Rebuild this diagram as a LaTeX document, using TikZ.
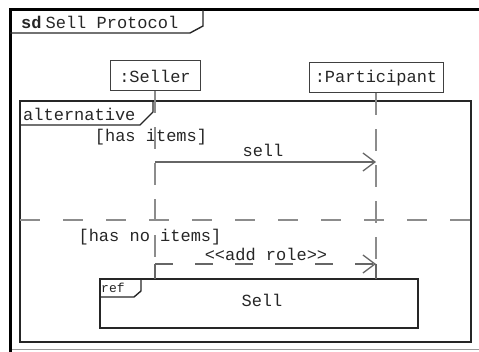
\documentclass[tikz,border=0pt]{standalone}
\usepackage{fontspec}
\setmainfont{Liberation Mono}
\usetikzlibrary{arrows.meta}
\begin{document}
\begin{tikzpicture}[x=1pt,y=-1pt,
  lbl/.style={font=\fontsize{17}{19}\selectfont, inner sep=0pt, text=black!85},
  smalllbl/.style={font=\fontsize{13}{15}\selectfont, inner sep=0pt, text=black!85},
  lifebox/.style={draw=black!75, line width=1pt, minimum height=30pt, inner sep=2pt,
    font=\fontsize{17}{19}\selectfont, text=black!85},
  lifeline/.style={draw=black!45, line width=1.3pt, dash pattern=on 22pt off 14pt},
  frameline/.style={draw=black!85, line width=2pt},
  tabline/.style={draw=black!85, line width=1.4pt},
  msg/.style={draw=black!60, line width=1.5pt, -{Straight Barb[length=12pt,width=18pt,line width=1.3pt]}},
  replymsg/.style={msg, dash pattern=on 18pt off 22pt},
  sep/.style={draw=black!45, line width=1.3pt, dash pattern=on 20pt off 23pt}]
\useasboundingbox (0,0) rectangle (479,352);

% diagram frame
\draw[line width=3pt] (10,352) -- (10,10) -- (479,10);
\draw[black!40, line width=1pt] (12,350) -- (479,350);
\draw[tabline] (10,33) -- (190,33) -- (203,26) -- (203,10);
\node[lbl, anchor=west] (title) at (21,22) {\textbf{sd}\kern4pt Sell Protocol};

% participants
\node[lifebox, minimum width=90pt] (seller) at (155,76) {:Seller};
\node[lifebox, minimum width=134pt] (part) at (376,78) {:Participant};

% combined fragment
\draw[frameline] (20,101) rectangle (471,342);
\draw[tabline] (20,125) -- (140,125) -- (153,112) -- (153,101);
\node[lbl, anchor=west] (alt) at (23,114) {alternative};
\draw[sep] (20,220) -- (471,220);
\node[lbl] (g1) at (151,137) {[has items]};
\node[lbl] (g2) at (150,237) {[has no items]};

% interaction use
\draw[frameline] (100,279) rectangle (418,328);
\draw[tabline] (100,297) -- (134,297) -- (141,291) -- (141,279);
\node[smalllbl, anchor=west] (ref) at (101,288) {ref};
\node[lbl] (refname) at (262,300) {Sell};

% message anchors on the lifelines
\coordinate (s1) at (155,162);
\coordinate (p1) at (376,162);
\coordinate (s2) at (155,264);
\coordinate (p2) at (376,264);
\coordinate (sref) at (155,279);
\coordinate (pref) at (376,279);

% lifelines
\draw[lifeline] (seller.south) -- (s2);
\draw[black!60, line width=1.3pt] (s2) -- (sref);
\draw[lifeline] (part.south) -- (p2);
\draw[black!60, line width=1.3pt] (p2) -- (pref);

% messages
\draw[msg] (s1) -- (p1);
\node[lbl] (m1) at (263,150) {sell};
\draw[replymsg] (s2) -- (p2);
\node[lbl] (m2) at (266,254) {<\kern0pt<add role>\kern0pt>};
\end{tikzpicture}
\end{document}
